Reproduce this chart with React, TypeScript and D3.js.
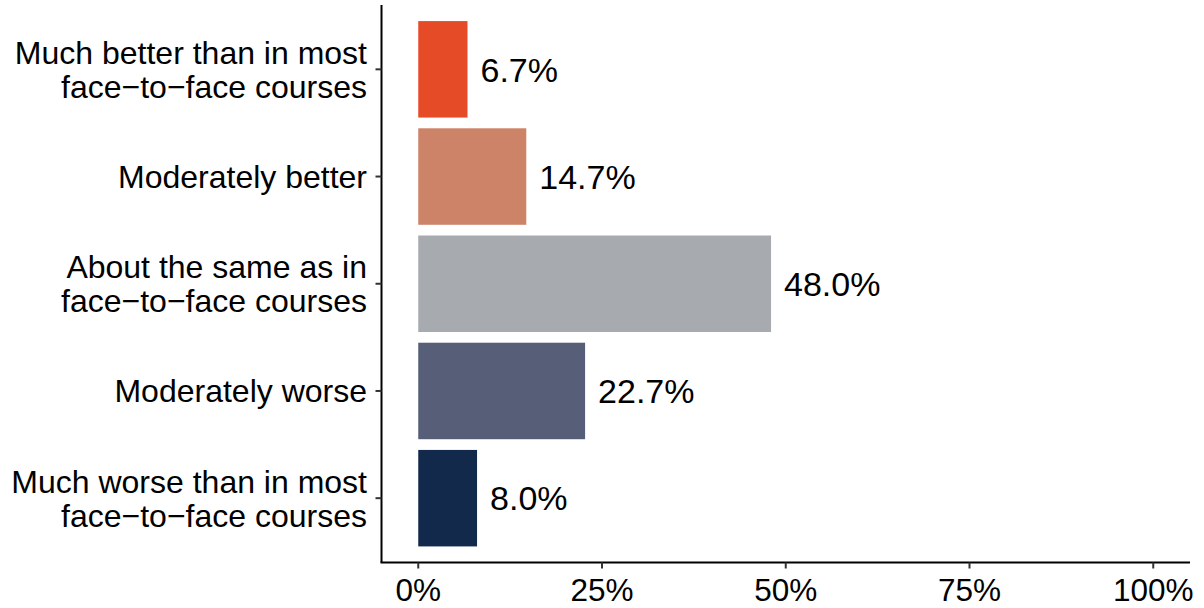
import React from "react";
import * as d3 from "d3";

const categories: string[][] = [
  ["Much better than in most", "face\u2212to\u2212face courses"],
  ["Moderately better"],
  ["About the same as in", "face\u2212to\u2212face courses"],
  ["Moderately worse"],
  ["Much worse than in most", "face\u2212to\u2212face courses"],
];
const values: number[] = [6.7, 14.7, 48.0, 22.7, 8.0];
const colors: string[] = ["#E64B27", "#CD8368", "#A7ABAF", "#565E78", "#13294B"];
const xTicks: number[] = [0, 25, 50, 75, 100];

const W = 1204;
const H = 608;
const left = 381.5;
const right = 1190;
const top = 5;
const bottom = 562.5;
const FONT = "Liberation Sans, Arial, Helvetica, sans-serif";

export default function App() {
  const x = d3.scaleLinear().domain([-5, 105]).range([left, right]);
  const ids = categories.map((_, i) => String(i));
  const y = d3.scaleBand().domain(ids).range([top, bottom]).paddingInner(0.1).paddingOuter(0.15);
  return (
    <svg width={W} height={H} style={{ position: "absolute", left: 0, top: 0 }}>
      <rect width={W} height={H} fill="white" />
      {values.map((v, i) => (
        <rect key={i} x={x(0)} y={y(ids[i])} width={x(v) - x(0)} height={y.bandwidth()} fill={colors[i]} />
      ))}
      {values.map((v, i) => (
        <text key={"l" + i} x={x(v) + 13} y={(y(ids[i]) as number) + y.bandwidth() / 2} dy="0.36em"
          fontFamily={FONT} fontSize={34} fill="black">{v.toFixed(1) + "%"}</text>
      ))}
      <line x1={left} x2={left} y1={top} y2={bottom} stroke="black" strokeWidth={2} />
      <line x1={left - 1} x2={right} y1={bottom} y2={bottom} stroke="black" strokeWidth={2} />
      {categories.map((lines, i) => {
        const cy = (y(ids[i]) as number) + y.bandwidth() / 2;
        const lh = 34;
        const y0 = cy - ((lines.length - 1) * lh) / 2;
        return (
          <g key={"c" + i}>
            <line x1={left - 6} x2={left} y1={cy} y2={cy} stroke="#333" strokeWidth={2} />
            {lines.map((t, j) => (
              <text key={j} x={367} y={y0 + j * lh} dy="0.36em" textAnchor="end"
                fontFamily={FONT} fontSize={32} fill="black">{t}</text>
            ))}
          </g>
        );
      })}
      {xTicks.map((t) => (
        <g key={"t" + t}>
          <line x1={x(t)} x2={x(t)} y1={bottom} y2={bottom + 6} stroke="#333" strokeWidth={2} />
          <text x={x(t)} y={bottom + 27} dy="0.36em" textAnchor="middle" fontFamily={FONT} fontSize={31.5} fill="black">{t + "%"}</text>
        </g>
      ))}
    </svg>
  );
}
